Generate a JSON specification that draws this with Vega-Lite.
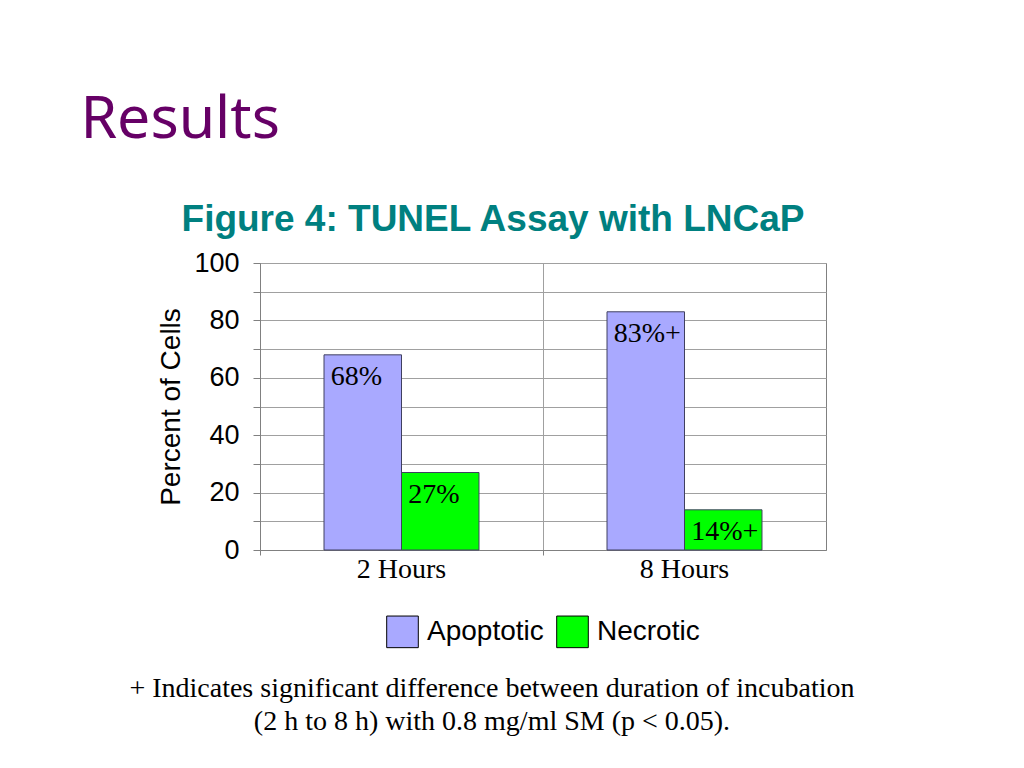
{
  "$schema": "https://vega.github.io/schema/vega-lite/v6.json",
  "background": "white",
  "padding": {"left": 80, "top": 90, "right": 10, "bottom": 10},
  "title": {
    "text": "Results",
    "anchor": "start",
    "dx": -49,
    "font": "Noto Sans",
    "fontSize": 59,
    "fontWeight": "normal",
    "color": "#660066",
    "offset": 51
  },
  "vconcat": [
    {
      "title": {
        "text": ["+ Indicates significant difference between duration of incubation", "(2 h to 8 h) with 0.8 mg/ml SM (p < 0.05)."],
        "orient": "bottom",
        "anchor": "middle",
        "font": "Liberation Serif",
        "fontSize": 28,
        "fontWeight": "normal",
        "color": "black",
        "lineHeight": 33,
        "offset": 24
      },
      "resolve": {"legend": {"color": "independent"}},
      "vconcat": [
        {
          "width": 566,
          "height": 287,
          "title": {
            "text": "Figure 4: TUNEL Assay with LNCaP",
            "font": "Liberation Sans",
            "fontSize": 37,
            "fontWeight": "bold",
            "color": "#008080",
            "dx": -50,
            "offset": 10
          },
          "data": {
            "values": [
              {"time": "2 Hours", "type": "Apoptotic", "pct": 68, "label": "68%"},
              {"time": "2 Hours", "type": "Necrotic", "pct": 27, "label": "27%"},
              {"time": "8 Hours", "type": "Apoptotic", "pct": 83, "label": "83%+"},
              {"time": "8 Hours", "type": "Necrotic", "pct": 14, "label": "14%+"}
            ]
          },
          "encoding": {
            "x": {
              "field": "time",
              "type": "nominal",
              "scale": {"paddingInner": 0, "paddingOuter": 0},
              "axis": {
                "title": null,
                "labelAngle": 0,
                "bandPosition": 0,
                "labelFont": "Liberation Serif",
                "labelFontSize": 28,
                "labelColor": "black",
                "labelPadding": 0,
                "grid": true,
                "gridColor": "#a0a0a0",
                "domainColor": "#808080",
                "tickColor": "#808080",
                "tickSize": 5
              }
            },
            "xOffset": {
              "field": "type",
              "type": "nominal",
              "scale": {"paddingInner": 0, "paddingOuter": 0.826}
            },
            "y": {
              "field": "pct",
              "type": "quantitative",
              "scale": {"domain": [0, 100], "nice": false},
              "axis": {
                "title": "Percent of Cells",
                "titleFont": "Liberation Sans",
                "titleFontSize": 28,
                "titleFontWeight": "normal",
                "titleColor": "black",
                "titlePadding": 8,
                "values": [0, 10, 20, 30, 40, 50, 60, 70, 80, 90, 100],
                "labelExpr": "datum.value % 20 == 0 ? datum.label : ''",
                "labelFont": "Liberation Sans",
                "labelFontSize": 27,
                "labelColor": "black",
                "labelPadding": 14,
                "grid": true,
                "gridColor": "#a0a0a0",
                "domainColor": "#808080",
                "tickColor": "#808080",
                "tickSize": 7
              }
            }
          },
          "layer": [
            {
              "mark": {"type": "bar", "stroke": "#404060", "strokeWidth": 1},
              "encoding": {
                "color": {
                  "field": "type",
                  "type": "nominal",
                  "scale": {"domain": ["Apoptotic", "Necrotic"], "range": ["#a9a9ff", "#00ff00"]},
                  "legend": {
                    "title": null,
                    "orient": "bottom",
                    "direction": "horizontal",
                    "symbolType": "square",
                    "symbolSize": 1000,
                    "symbolStrokeColor": "black",
                    "symbolStrokeWidth": 1,
                    "symbolOpacity": 1,
                    "labelFont": "Liberation Sans",
                    "labelFontSize": 28,
                    "labelColor": "black",
                    "columnPadding": 10,
                    "labelOffset": 8,
                    "offset": 32
                  }
                }
              }
            },
            {
              "mark": {
                "type": "text",
                "align": "left",
                "baseline": "top",
                "dx": -32,
                "dy": 8,
                "font": "Liberation Serif",
                "fontSize": 28,
                "color": "black"
              },
              "encoding": {"text": {"field": "label"}}
            }
          ]
        }
      ]
    }
  ],
  "config": {
    "view": {"stroke": "#808080"},
    "axis": {"gridOpacity": 1},
    "legend": {"layout": {"bottom": {"anchor": "middle", "bounds": "flush"}}}
  }
}
